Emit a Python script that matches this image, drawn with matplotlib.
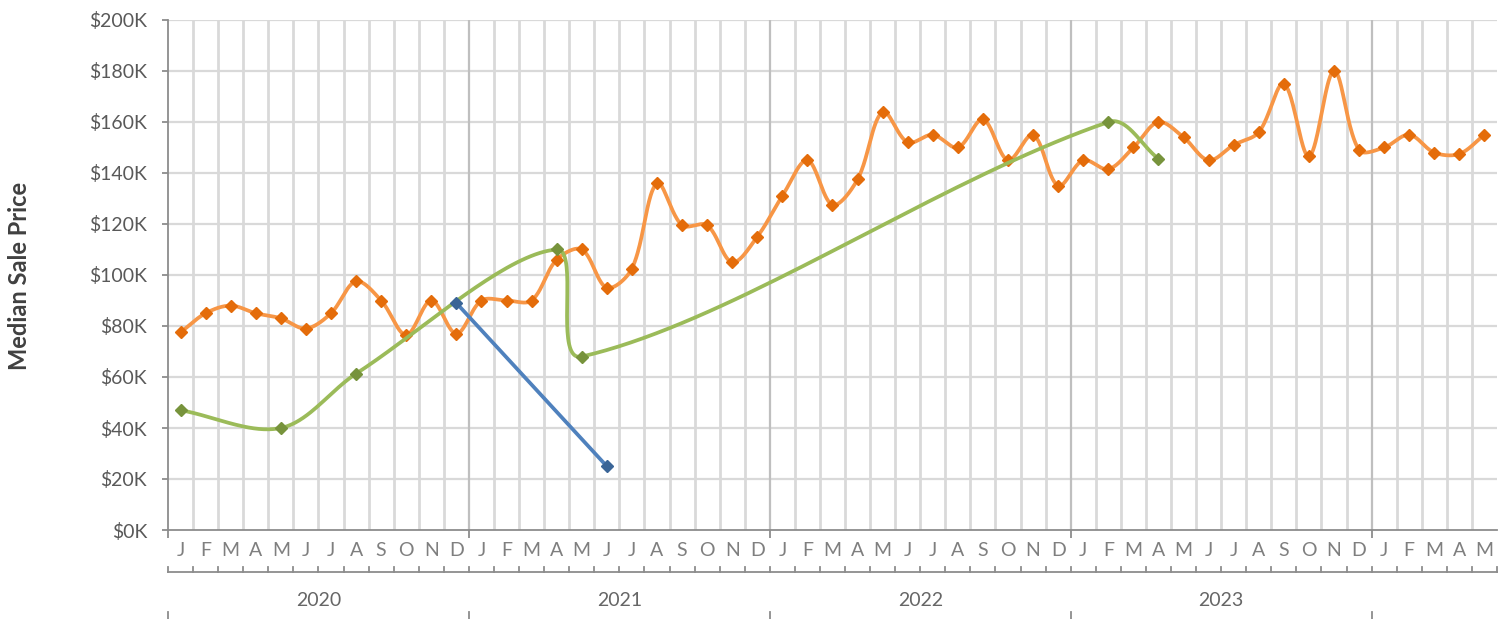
import numpy as np
import matplotlib.pyplot as plt
from matplotlib.transforms import blended_transform_factory

plt.rcParams['font.family'] = ['Lato', 'DejaVu Sans']

# month letters along the category axis, 2020-01 .. 2024-05
months = list("JFMAMJJASOND") * 4 + list("JFMAM")
years = ["2020", "2021", "2022", "2023"]

# median sale price in $K, one value per month
orange_vals = [77.5, 85, 88, 85, 83, 79, 85, 97.5, 90, 76.5, 90, 77,
               90, 90, 90, 106, 110, 95, 102.5, 136, 119.5, 119.5, 105, 115,
               131, 145, 127.5, 137.5, 164, 152, 155, 150, 161, 145, 155, 135,
               145, 141.5, 150, 160, 154, 145, 151, 156, 175, 146.5, 180, 149,
               150, 155, 148, 147.5, 155]

# sparse series (month index, value in $K)
green_idx = [0, 4, 7, 15, 16, 37, 39]
green_vals = [47, 40, 61.3, 110, 68, 160, 145.6]
blue_idx = [11, 17]
blue_vals = [89, 25]

yticks = [0, 20, 40, 60, 80, 100, 120, 140, 160, 180, 200]


# smoothed line like a spreadsheet "smoothed line" (Catmull-Rom Bezier, computed in pixel space)
def smooth(x, y, sx, sy, n=40):
    P = np.column_stack([np.asarray(x, float) * sx, np.asarray(y, float) * sy])
    if len(P) < 3:
        return np.asarray(x, float), np.asarray(y, float)
    t = np.linspace(0, 1, n)[:, None]
    pts = [P[:1]]
    for i in range(len(P) - 1):
        p0 = P[max(i - 1, 0)]
        p1 = P[i]
        p2 = P[i + 1]
        p3 = P[min(i + 2, len(P) - 1)]
        d01 = np.linalg.norm(p1 - p0)
        d12 = np.linalg.norm(p2 - p1)
        d23 = np.linalg.norm(p3 - p2)
        c1 = p1 + (p2 - p0) * (d12 / (d01 + d12)) / 3
        c2 = p2 - (p3 - p1) * (d12 / (d12 + d23)) / 3
        seg = ((1 - t) ** 3) * p1 + 3 * ((1 - t) ** 2) * t * c1 + 3 * (1 - t) * t ** 2 * c2 + t ** 3 * p2
        pts.append(seg[1:])
    pts = np.vstack(pts)
    return pts[:, 0] / sx, pts[:, 1] / sy


W, H = 1512, 619
fig = plt.figure(figsize=(W / 100, H / 100), dpi=100)
left, right, top, bottom = 168, 1497, 20, 530
ax = fig.add_axes([left / W, 1 - bottom / H, (right - left) / W, (bottom - top) / H])

n = len(months)
ax.set_xlim(0, n)
ax.set_ylim(0, 200)
sx = (right - left) / n
sy = (bottom - top) / 200.0

# grid
for v in yticks[1:]:
    ax.axhline(v, color='#D9D9D9', lw=1.6, zorder=0)
for k in range(1, n):
    if k % 12 == 0:
        ax.axvline(k, color='#BFBFBF', lw=1.6, zorder=0.5)
    else:
        ax.axvline(k, color='#D9D9D9', lw=2.0, zorder=0)

xc = np.arange(n) + 0.5

# orange series
ox, oy = smooth(xc, orange_vals, sx, sy)
ax.plot(ox, oy, color='#F79646', lw=2.7, zorder=3, solid_capstyle='round')
ax.plot(xc, orange_vals, ls='none', marker='D', ms=5.8, color='#E46C0A', zorder=4)

# green series
gxp = np.array(green_idx) + 0.5
gx, gy = smooth(gxp, green_vals, sx, sy)
ax.plot(gx, gy, color='#9BBB59', lw=2.7, zorder=5, solid_capstyle='round')
ax.plot(gxp, green_vals, ls='none', marker='D', ms=5.8, color='#77933C', zorder=6)

# blue series
bxp = np.array(blue_idx) + 0.5
ax.plot(bxp, blue_vals, color='#4F81BD', lw=2.7, zorder=7)
ax.plot(bxp, blue_vals, ls='none', marker='D', ms=5.8, color='#3A6597', zorder=8)

# axes styling
for s in ['top', 'right']:
    ax.spines[s].set_visible(False)
ax.spines['left'].set_color('#8C8C8C')
ax.spines['bottom'].set_color('#8C8C8C')
ax.spines['left'].set_linewidth(1.3)
ax.spines['bottom'].set_linewidth(1.3)
ax.spines['left'].set_zorder(2)
ax.spines['bottom'].set_zorder(2)

ax.set_yticks(yticks)
ax.set_yticklabels(['${}K'.format(v) for v in yticks])
ax.tick_params(axis='y', length=4, width=1.3, color='#8C8C8C', pad=11,
               labelsize=14, labelcolor='#595959')

ax.set_xticks(xc)
ax.set_xticklabels(months)
ax.tick_params(axis='x', which='major', length=0, pad=9, labelsize=14, labelcolor='#7F7F7F')
ax.set_xticks([0, 12, 24, 36, 48], minor=True)
ax.tick_params(axis='x', which='minor', length=6, width=1.3, color='#8C8C8C')

# second level of the category axis (years)
tr = blended_transform_factory(ax.transData, ax.transAxes)
px = 1.0 / (bottom - top)
yl = -41.5 * px
ax.plot([0, n], [yl, yl], color='#8C8C8C', lw=1.3, transform=tr, clip_on=False)
for k in range(n + 1):
    ax.plot([k, k], [yl, yl + 5 * px], color='#8C8C8C', lw=1.3, transform=tr, clip_on=False)
for j, yr in enumerate(years):
    ax.text(12 * j + 6, -71 * px, yr, transform=tr, ha='center', va='center',
            fontsize=14, color='#666666')
for k in [0, 12, 24, 36, 48]:
    ax.plot([k, k], [-82 * px, -95 * px], color='#8C8C8C', lw=1.3, transform=tr, clip_on=False)

fig.text(19.5 / W, 1 - 275.5 / H, 'Median Sale Price', rotation=90, ha='center', va='center',
         fontsize=17, fontweight='bold', color='#404040')

fig.savefig('out.png', dpi=100)
